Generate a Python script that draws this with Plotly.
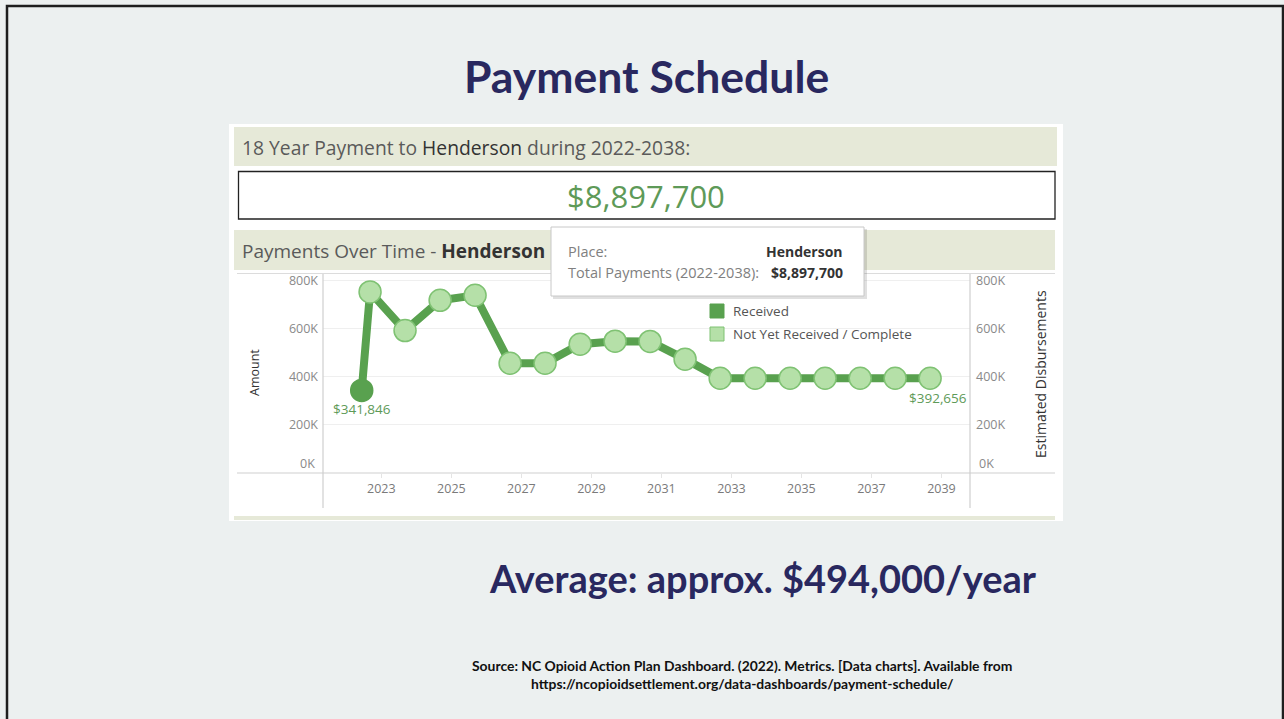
import plotly.graph_objects as go

W, H = 1284, 719

# ---------------- data ----------------
pay_dates = ["2022-06-10", "2022-09-05", "2023-09-05", "2024-09-05", "2025-09-05",
             "2026-09-05", "2027-09-05", "2028-09-05", "2029-09-05", "2030-09-05",
             "2031-09-05", "2032-09-05", "2033-09-05", "2034-09-05", "2035-09-05",
             "2036-09-05", "2037-09-05", "2038-09-05"]
pay_amounts = [341846, 752000, 591000, 717000, 738000, 455000, 455000, 534000, 547000,
               546000, 472000, 392656, 392656, 392656, 392656, 392656, 392656, 392656]
pay_status = ["Received"] + ["Not Yet Received / Complete"] * 17

y_ticks = [200000, 400000, 600000, 800000]
y_tick_text = ["200K", "400K", "600K", "800K"]
x_tick_years = [2023, 2025, 2027, 2029, 2031, 2033, 2035, 2037, 2039]

place = "Henderson"
total_payments = "$8,897,700"
first_label = "$341,846"
last_label = "$392,656"

# ---------------- styles ----------------
BG = "#ecf0f0"
NAVY = "#29285f"
BAND = "#e6e9d8"
DARK_G = "#59a14f"
LIGHT_G = "#b5e0a8"
LIGHT_G_EDGE = "#7fc273"
TB_FONT = "Open Sans"
SLIDE_FONT = "Lato"


def px(x):
    return x / W


def py(y):
    return 1 - y / H


fig = go.Figure()

recv_x = [d for d, s in zip(pay_dates, pay_status) if s == "Received"]
recv_y = [v for v, s in zip(pay_amounts, pay_status) if s == "Received"]
nyr_x = [d for d, s in zip(pay_dates, pay_status) if s != "Received"]
nyr_y = [v for v, s in zip(pay_amounts, pay_status) if s != "Received"]

fig.add_trace(go.Scatter(x=pay_dates, y=pay_amounts, mode="lines",
                         line=dict(color=DARK_G, width=8), hoverinfo="skip",
                         showlegend=False))
fig.add_trace(go.Scatter(x=nyr_x, y=nyr_y, mode="markers",
                         marker=dict(size=22, color=LIGHT_G,
                                     line=dict(color=LIGHT_G_EDGE, width=1.5)),
                         showlegend=False))
fig.add_trace(go.Scatter(x=recv_x, y=recv_y, mode="markers",
                         marker=dict(size=22, color=DARK_G,
                                     line=dict(color=DARK_G, width=1.5)),
                         showlegend=False))
# invisible trace to anchor right axis
fig.add_trace(go.Scatter(x=pay_dates, y=pay_amounts, mode="lines", yaxis="y2",
                         line=dict(width=0, color="rgba(0,0,0,0)"),
                         hoverinfo="skip", showlegend=False))

shapes = []
# slide border
shapes.append(dict(type="rect", xref="paper", yref="paper",
                   x0=px(7), x1=px(1283), y0=py(722), y1=py(6),
                   line=dict(color="#1e1e1e", width=2.5), fillcolor="rgba(0,0,0,0)",
                   layer="below"))
# dashboard white panel
shapes.append(dict(type="rect", xref="paper", yref="paper",
                   x0=px(229), x1=px(1063), y0=py(521), y1=py(124),
                   line=dict(width=0), fillcolor="white", layer="below"))
# header band 1
shapes.append(dict(type="rect", xref="paper", yref="paper",
                   x0=px(234), x1=px(1057), y0=py(166), y1=py(127),
                   line=dict(width=0), fillcolor=BAND, layer="below"))
# total box
shapes.append(dict(type="rect", xref="paper", yref="paper",
                   x0=px(238.5), x1=px(1055), y0=py(219), y1=py(171.5),
                   line=dict(color="#222222", width=1.3), fillcolor="white", layer="below"))
# header band 2
shapes.append(dict(type="rect", xref="paper", yref="paper",
                   x0=px(234), x1=px(1055), y0=py(270), y1=py(230),
                   line=dict(width=0), fillcolor=BAND, layer="below"))
# line under band 2
shapes.append(dict(type="line", xref="paper", yref="paper",
                   x0=px(237), x1=px(1055), y0=py(273.5), y1=py(273.5),
                   line=dict(color="#dcdcdc", width=1), layer="below"))
# bottom band
shapes.append(dict(type="rect", xref="paper", yref="paper",
                   x0=px(234), x1=px(1055), y0=py(520), y1=py(516),
                   line=dict(width=0), fillcolor=BAND, layer="below"))
# axis frame lines
shapes.append(dict(type="line", xref="paper", yref="paper",
                   x0=px(237), x1=px(1055), y0=py(473), y1=py(473),
                   line=dict(color="#cfcfcf", width=1.2)))
for xv in (323, 970):
    shapes.append(dict(type="line", xref="paper", yref="paper",
                       x0=px(xv), x1=px(xv), y0=py(508), y1=py(274),
                       line=dict(color="#cfcfcf", width=1.2)))
# tooltip shadow + box
shapes.append(dict(type="rect", xref="paper", yref="paper",
                   x0=px(553), x1=px(867), y0=py(299), y1=py(229),
                   line=dict(width=0), fillcolor="rgba(0,0,0,0.12)"))
shapes.append(dict(type="rect", xref="paper", yref="paper",
                   x0=px(551), x1=px(864), y0=py(296), y1=py(227),
                   line=dict(color="#c8c8c8", width=1), fillcolor="white"))
# legend squares
shapes.append(dict(type="rect", xref="paper", yref="paper",
                   x0=px(710), x1=px(724), y0=py(318), y1=py(304),
                   line=dict(color=DARK_G, width=1), fillcolor=DARK_G))
shapes.append(dict(type="rect", xref="paper", yref="paper",
                   x0=px(710), x1=px(724), y0=py(341), y1=py(327),
                   line=dict(color=LIGHT_G_EDGE, width=1), fillcolor=LIGHT_G))

ann = []


def A(x, y, text, size, color, family=TB_FONT, xanchor="left", **kw):
    d = dict(x=px(x), y=py(y), xref="paper", yref="paper", text=text, showarrow=False,
             xanchor=xanchor, yanchor="middle",
             font=dict(size=size, color=color, family=family))
    d.update(kw)
    ann.append(d)


A(646, 75, "<b>Payment Schedule</b>", 44.5, NAVY, SLIDE_FONT, "center")
A(240, 147, "18 Year Payment to <span style='color:#333'>" + place + "</span> during 2022-2038:",
  19.3, "#5a5a5a")
A(646, 196, total_payments, 31, "#5e9a58", TB_FONT, "center")
A(240, 251, "Payments Over Time - <b><span style='color:#333'>" + place + "</span></b>", 19, "#5a5a5a")
# tooltip text
A(566, 252, "Place:", 14.5, "#808080")
A(845, 252, "<b>" + place + "</b>", 14, "#333333", TB_FONT, "right")
A(566, 272, "Total Payments (2022-2038):", 14.5, "#808080")
A(845, 272, "<b>" + total_payments + "</b>", 14, "#333333", TB_FONT, "right")
# legend
A(731, 311, "Received", 13.5, "#555555")
A(731, 334, "Not Yet Received / Complete", 13.5, "#555555")
# axis titles
A(254, 373, "Amount", 12.5, "#333333", TB_FONT, "center", textangle=-90)
A(1040, 374, "Estimated Disbursements", 14, "#333333", TB_FONT, "center", textangle=-90)
# 0K labels (Tableau shifts them above baseline)
A(317, 463, "0K", 12.5, "#8a8a8a", TB_FONT, "right")
A(977, 463, "0K", 12.5, "#8a8a8a", TB_FONT, "left")
# data labels
ann.append(dict(x=pay_dates[0], y=pay_amounts[0], xref="x", yref="y", text=first_label,
                showarrow=False, yshift=-19, xshift=0,
                font=dict(size=13.5, color="#5e9a58", family=TB_FONT)))
ann.append(dict(x=pay_dates[-1], y=pay_amounts[-1], xref="x", yref="y", text=last_label,
                showarrow=False, yshift=-20, xshift=8,
                font=dict(size=13.5, color="#5e9a58", family=TB_FONT)))
# bottom slide texts
A(763, 578, "<b>Average: approx. $494,000/year</b>", 38, NAVY, SLIDE_FONT, "center")
A(742, 665, "<b>Source: NC Opioid Action Plan Dashboard. (2022). Metrics. [Data charts]. Available from</b>",
  13.9, "#111111", SLIDE_FONT, "center")
A(742, 683, "<b>https://ncopioidsettlement.org/data-dashboards/payment-schedule/</b>",
  13.9, "#111111", SLIDE_FONT, "center")

y_dom = [1 - 472.5 / H, 1 - 272 / H]
y_rng = [0, 835000]

fig.update_layout(
    width=W, height=H, margin=dict(l=0, r=0, t=0, b=0),
    paper_bgcolor=BG, plot_bgcolor="white",
    shapes=shapes, annotations=ann, showlegend=False,
    xaxis=dict(domain=[323 / W, 970 / W], type="date",
               range=["2021-05-02", "2039-10-26"],
               tickvals=[f"{y}-01-01" for y in x_tick_years],
               ticktext=[str(y) for y in x_tick_years],
               showgrid=False, zeroline=False, showline=False,
               ticks="outside", ticklen=4, tickcolor="#e4e4e4",
               tickfont=dict(size=12.5, color="#7a7a7a", family=TB_FONT)),
    yaxis=dict(domain=y_dom, range=y_rng, tickvals=y_ticks, ticktext=y_tick_text,
               showgrid=True, gridcolor="#efefef", gridwidth=1, zeroline=False,
               showline=False, ticks="", ticklabelstandoff=4,
               tickfont=dict(size=12.5, color="#8a8a8a", family=TB_FONT)),
    yaxis2=dict(domain=y_dom, range=y_rng, overlaying="y", side="right", anchor="x",
                tickvals=y_ticks, ticktext=y_tick_text, showgrid=False,
                zeroline=False, showline=False, ticks="", ticklabelstandoff=5,
                tickfont=dict(size=12.5, color="#8a8a8a", family=TB_FONT)),
)

fig.write_html("out.html")
